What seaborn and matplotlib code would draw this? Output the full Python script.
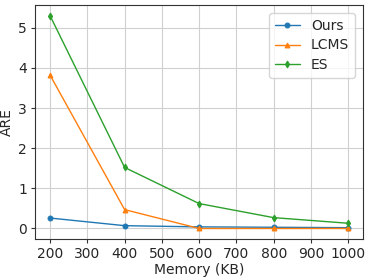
#set up modules
import numpy as np
import pandas as pd
import matplotlib
matplotlib.use("Agg")
import matplotlib.pyplot as plt
import seaborn as sns

#data
memory = [200, 400, 600, 800, 1000]
ours = [0.26, 0.07, 0.04, 0.03, 0.02]
lcms = [3.82, 0.47, 0.0, 0.0, 0.0]
es = [5.30, 1.52, 0.62, 0.27, 0.13]

df = pd.DataFrame({
    "Memory (KB)": memory * 3,
    "ARE": ours + lcms + es,
    "method": ["Ours"] * 5 + ["LCMS"] * 5 + ["ES"] * 5,
})

sns.set_style("ticks")
plt.rcParams["font.family"] = ["DejaVu Sans"]
plt.rc("font", size=10)

fig, ax = plt.subplots(figsize=(3.74, 2.8), dpi=100)

colors = ["#1f77b4", "#ff7f0e", "#2ca02c"]
markers = ["o", "^", "d"]
for name, c, m in zip(["Ours", "LCMS", "ES"], colors, markers):
    sub = df[df["method"] == name]
    sns.lineplot(data=sub, x="Memory (KB)", y="ARE", color=c, marker=m,
                 markersize=3.5, markeredgecolor=c, linewidth=1.0, label=name, ax=ax)

ax.grid(True, color="#d0d0d0", linewidth=0.8)
ax.set_axisbelow(True)
ax.set_xticks(np.arange(200, 1001, 100))
ax.set_yticks(np.arange(0, 6, 1))
ax.tick_params(labelsize=10, length=3, color="#333333", pad=3)
for s in ax.spines.values():
    s.set_color("#333333")
    s.set_linewidth(0.8)
ax.set_xlabel("Memory (KB)", fontsize=10, labelpad=1)
ax.set_ylabel("ARE", fontsize=10, labelpad=3)
ax.legend(loc="upper right", fontsize=10, frameon=True, framealpha=0.8,
          edgecolor="#cccccc", fancybox=True, handlelength=1.8,
          labelspacing=0.4, borderaxespad=0.6)

plt.subplots_adjust(left=0.094, right=0.971, top=0.982, bottom=0.146)
plt.savefig("out.png", dpi=100)
